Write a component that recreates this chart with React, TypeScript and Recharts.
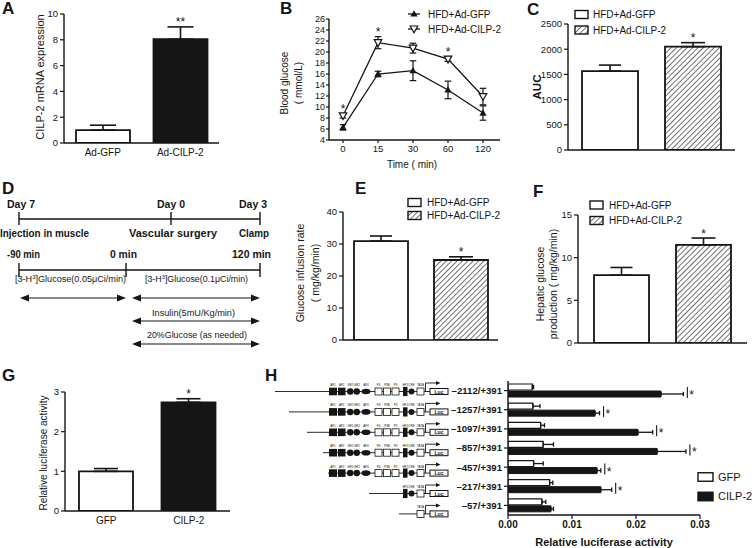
import type { CSSProperties, ReactNode } from 'react'
import { Bar, BarChart, Cell, ErrorBar, LabelList, Line, LineChart, ReferenceDot, XAxis, YAxis } from 'recharts'

const FONT = '"Liberation Sans", Arial, Helvetica, sans-serif'
const INK = '#151515'

// A · CILP-2 mRNA expression
const aGroups = ['Ad-GFP', 'Ad-CILP-2']
const aMean = [1.0, 8.05]
const aErr = [0.38, 0.95]
const aSig = ['', '**']
const aTicks = [0, 2, 4, 6, 8, 10]

// B · glucose tolerance
const bTimes = [0, 15, 30, 60, 120]
const bGfp = [6.3, 16.0, 16.6, 13.1, 8.9]
const bGfpErr = [0.5, 0.5, 1.8, 1.6, 1.3]
const bCilp = [8.4, 21.7, 20.7, 18.7, 11.9]
const bCilpErr = [0.4, 1.1, 0.9, 0.4, 1.5]
const bSig = ['*', '*', '', '*', '']
const bTicks = [4, 6, 8, 10, 12, 14, 16, 18, 20, 22, 24, 26]

// C · AUC
const cMean = [1565, 2050]
const cErr = [120, 80]
const cSig = ['', '*']
const cTicks = [0, 500, 1000, 1500, 2000, 2500]

// E · glucose infusion rate
const eMean = [30.9, 25.0]
const eErr = [1.6, 1.0]
const eSig = ['', '*']
const eTicks = [0, 10, 20, 30, 40]

// F · hepatic glucose production
const fMean = [7.95, 11.5]
const fErr = [0.9, 0.8]
const fSig = ['', '*']
const fTicks = [0, 5, 10, 15]

// G · luciferase
const gGroups = ['GFP', 'CILP-2']
const gMean = [1.0, 2.74]
const gErr = [0.07, 0.09]
const gSig = ['', '*']
const gTicks = [0, 1, 2, 3]

// H · promoter deletions
const hConstructs = ['–2112/+391', '–1257/+391', '–1097/+391', '–857/+391', '–457/+391', '–217/+391', '–57/+391']
const hGfp = [0.0038, 0.0039, 0.0051, 0.0055, 0.0040, 0.0065, 0.0053]
const hGfpErr = [0.0002, 0.0011, 0.0006, 0.0016, 0.0015, 0.0005, 0.0006]
const hCilp = [0.0239, 0.0136, 0.0203, 0.0233, 0.0139, 0.0145, 0.0067]
const hCilpErr = [0.0035, 0.0007, 0.0023, 0.0045, 0.0006, 0.0017, 0.0004]
const hSig = ['*', '*', '*', '*', '*', '*', '']
const hTicks = [0, 0.01, 0.02, 0.03]

const aRows = aGroups.map((g, i) => ({ g, mean: aMean[i], errRange: [0, aErr[i]], sig: aSig[i] }))
const gRows = gGroups.map((g, i) => ({ g, mean: gMean[i], errRange: [0, gErr[i]], sig: gSig[i] }))
const pairRow = (mean: number[], err: number[], sig: string[]) => [{
  g: '', gfp: mean[0], gfpErr: [0, err[0]], cilp: mean[1], cilpErr: [0, err[1]], sig: sig[1],
}]
const bRows = bTimes.map((t, i) => ({ t, gfp: bGfp[i], gfpErr: bGfpErr[i], cilp: bCilp[i], cilpErr: bCilpErr[i] }))
const hRows = hConstructs.map((c, i) => ({
  c, gfp: hGfp[i], gfpErr: [0, hGfpErr[i]], cilp: hCilp[i], cilpErr: [0, hCilpErr[i]], sig: hSig[i],
}))

type Plot = { x0: number; y0: number; x1: number; y1: number }
const PAD = 16
function frame(p: Plot, yw: number, xh: number) {
  const left = p.x0 - yw - PAD
  const top = p.y0 - PAD
  return {
    box: { position: 'absolute', left, top } as CSSProperties,
    width: p.x1 + PAD - left,
    height: p.y1 + xh + PAD - top,
    margin: { top: PAD, right: PAD, bottom: PAD, left: PAD },
  }
}

const axisLine = { stroke: INK, strokeWidth: 1.4 }
const tickLine = { stroke: INK, strokeWidth: 1.2 }
const tick = (size: number, bold = false) => ({ fill: INK, fontSize: size, fontFamily: FONT, fontWeight: bold ? 700 : 400 })

type Box = { x: number; y: number; width: number; height: number }
function boxOf(p: any): Box | null {
  const v = p?.viewBox ?? p
  if (!v || typeof v.x !== 'number' || typeof v.y !== 'number') return null
  return v
}

// significance mark above the error bar of a vertical bar
const upStar = (means: number[], errs: number[], sigs: string[]) => (p: any) => {
  const b = boxOf(p)
  const i = p?.index ?? 0
  if (!b || !sigs[i]) return null
  const top = b.y - errs[i] * (b.height / means[i])
  return <text key={`up${i}`} x={b.x + b.width / 2} y={top - 0.5} textAnchor="middle" fontSize={12} fontFamily={FONT} fill={INK}>{sigs[i]}</text>
}

// "|*" right of the error bar of a horizontal bar
const sideStar = (means: number[], errs: number[], sigs: string[]) => (p: any) => {
  const b = boxOf(p)
  const i = p?.index ?? 0
  if (!b || !sigs[i]) return null
  const end = b.x + b.width + errs[i] * (b.width / means[i])
  return <g key={`side${i}`}>
    <line x1={end + 4} x2={end + 4} y1={b.y - 4} y2={b.y + b.height + 1} stroke={INK} strokeWidth={1.1} />
    <text x={end + 6} y={b.y + b.height / 2 + 5} fontSize={12} fontFamily={FONT} fill={INK}>{sigs[i]}</text>
  </g>
}

const starAt = (text: string) => (p: any) => {
  const b = boxOf(p)
  if (!b) return null
  return <text x={b.x + b.width / 2} y={b.y - 0.5} textAnchor="middle" fontSize={12} fontFamily={FONT} fill={INK}>{text}</text>
}

function Hatch({ id }: { id: string }) {
  return <pattern id={id} patternUnits="userSpaceOnUse" width={3.8} height={3.8} patternTransform="rotate(45)">
    <rect width={3.8} height={3.8} fill="#fff" />
    <line x1={0} y1={0} x2={0} y2={3.8} stroke={INK} strokeWidth={1.2} />
  </pattern>
}

function TwoBarPanel({ plot, rows, ticks, yw, cap }: {
  plot: Plot; rows: { g: string; mean: number; errRange: number[]; sig: string }[]; ticks: number[]; yw: number; cap: number
}) {
  const f = frame(plot, yw, 20)
  const means = rows.map((r) => r.mean)
  const errs = rows.map((r) => r.errRange[1])
  const sigs = rows.map((r) => r.sig)
  return <div style={f.box}>
    <BarChart width={f.width} height={f.height} margin={f.margin} data={rows}>
      <XAxis dataKey="g" height={20} axisLine={axisLine} tickLine={false} tickSize={4} tickMargin={2} tick={tick(10)} />
      <YAxis width={yw} domain={[ticks[0], ticks[ticks.length - 1]]} ticks={ticks} interval={0} allowDataOverflow
        axisLine={axisLine} tickLine={tickLine} tickSize={4} tickMargin={2} tick={tick(9.5)} />
      <Bar dataKey="mean" barSize={54} stroke={INK} strokeWidth={1.8} isAnimationActive={false}>
        {rows.map((r, i) => <Cell key={r.g} fill={i ? INK : '#fff'} />)}
        <ErrorBar dataKey="errRange" width={cap} stroke={INK} strokeWidth={1.6} direction="y" />
        <LabelList dataKey="sig" content={upStar(means, errs, sigs)} />
      </Bar>
    </BarChart>
  </div>
}

function GroupPanel({ plot, mean, err, sig, ticks, yw, barSize, gap, hatchId }: {
  plot: Plot; mean: number[]; err: number[]; sig: string[]; ticks: number[]; yw: number; barSize: number; gap: number; hatchId: string
}) {
  const f = frame(plot, yw, 12)
  const rows = pairRow(mean, err, sig)
  return <div style={f.box}>
    <BarChart width={f.width} height={f.height} margin={f.margin} data={rows} barGap={gap}>
      <defs><Hatch id={hatchId} /></defs>
      <XAxis dataKey="g" height={12} axisLine={axisLine} tickLine={tickLine} tickSize={4} tick={false} />
      <YAxis width={yw} domain={[ticks[0], ticks[ticks.length - 1]]} ticks={ticks} interval={0} allowDataOverflow
        axisLine={axisLine} tickLine={tickLine} tickSize={4} tickMargin={2} tick={tick(9.5)} />
      <Bar dataKey="gfp" barSize={barSize} fill="#fff" stroke={INK} strokeWidth={1.8} isAnimationActive={false}>
        <ErrorBar dataKey="gfpErr" width={11} stroke={INK} strokeWidth={1.6} direction="y" />
      </Bar>
      <Bar dataKey="cilp" barSize={barSize} fill={`url(#${hatchId})`} stroke={INK} strokeWidth={1.8} isAnimationActive={false}>
        <ErrorBar dataKey="cilpErr" width={12} stroke={INK} strokeWidth={1.6} direction="y" />
        <LabelList dataKey="sig" content={upStar([mean[1]], [err[1]], [sig[1]])} />
      </Bar>
    </BarChart>
  </div>
}

const triUp = (p: any) => p.cx == null ? <g key={p.index} /> :
  <path key={p.index} d={`M${p.cx},${p.cy - 3.8} L${p.cx + 3.6},${p.cy + 2.6} L${p.cx - 3.6},${p.cy + 2.6} Z`} fill={INK} />
const triDown = (p: any) => p.cx == null ? <g key={p.index} /> :
  <path key={p.index} d={`M${p.cx - 3.8},${p.cy - 3} L${p.cx + 3.8},${p.cy - 3} L${p.cx},${p.cy + 3.8} Z`} fill="#fff" stroke={INK} strokeWidth={1.2} />

function PanelB() {
  const f = frame({ x0: 329, y0: 19, x1: 500, y1: 140 }, 22, 18)
  return <div style={f.box}>
    <LineChart width={f.width} height={f.height} margin={f.margin} data={bRows}>
      <XAxis dataKey="t" height={18} padding={{ left: 14, right: 17 }} axisLine={axisLine} tickLine={tickLine} tickSize={3} tickMargin={2} tick={tick(9.5)} />
      <YAxis width={22} domain={[4, 26]} ticks={bTicks} interval={0} allowDataOverflow
        axisLine={axisLine} tickLine={tickLine} tickSize={3} tickMargin={1} tick={tick(9)} />
      <Line dataKey="gfp" type="linear" stroke={INK} strokeWidth={1.3} dot={triUp} activeDot={false} isAnimationActive={false}>
        <ErrorBar dataKey="gfpErr" width={3.3} stroke={INK} strokeWidth={1.2} direction="y" />
      </Line>
      <Line dataKey="cilp" type="linear" stroke={INK} strokeWidth={1.3} dot={triDown} activeDot={false} isAnimationActive={false}>
        <ErrorBar dataKey="cilpErr" width={3.3} stroke={INK} strokeWidth={1.2} direction="y" />
      </Line>
      {bTimes.map((t, i) => bSig[i]
        ? <ReferenceDot key={t} x={t} y={bCilp[i] + bCilpErr[i]} r={0} fill="none" stroke="none" ifOverflow="visible" label={starAt(bSig[i])} />
        : null)}
    </LineChart>
  </div>
}

function PanelH() {
  const f = frame({ x0: 508, y0: 381, x1: 700, y1: 515 }, 60, 16)
  return <div style={f.box}>
    <BarChart layout="vertical" width={f.width} height={f.height} margin={f.margin} data={hRows} barGap={1}>
      <XAxis type="number" domain={[0, 0.03]} ticks={hTicks} interval={0} allowDataOverflow height={16}
        tickFormatter={(v: number) => v.toFixed(2)}
        axisLine={axisLine} tickLine={tickLine} tickSize={4} tickMargin={2} tick={tick(10, true)} />
      <YAxis type="category" dataKey="c" width={60} interval={0}
        axisLine={axisLine} tickLine={tickLine} tickSize={4} tickMargin={2} tick={tick(9.6, true)} />
      <Bar dataKey="gfp" barSize={6} fill="#fff" stroke={INK} strokeWidth={1.2} isAnimationActive={false}>
        <ErrorBar dataKey="gfpErr" width={2.2} stroke={INK} strokeWidth={1.3} direction="x" />
      </Bar>
      <Bar dataKey="cilp" barSize={6} fill={INK} stroke={INK} strokeWidth={1} isAnimationActive={false}>
        <ErrorBar dataKey="cilpErr" width={2.2} stroke={INK} strokeWidth={1.3} direction="x" />
        <LabelList dataKey="sig" content={sideStar(hCilp, hCilpErr, hSig)} />
      </Bar>
    </BarChart>
  </div>
}

function T({ x, y, size = 10, bold, anchor = 'start', rotate, len, children }: {
  x: number; y: number; size?: number; bold?: boolean; anchor?: 'start' | 'middle' | 'end'; rotate?: boolean; len?: number; children: ReactNode
}) {
  return <text x={x} y={y} fontSize={size} fontWeight={bold ? 700 : 400} textAnchor={rotate ? 'middle' : anchor}
    transform={rotate ? `rotate(-90 ${x} ${y})` : undefined}
    dominantBaseline={rotate ? 'central' : undefined}
    textLength={len} lengthAdjust={len ? 'spacingAndGlyphs' : undefined}>{children}</text>
}

function BoxLegend({ x, y1, y2, tx, w = 13, h = 8, size = 10, labels, second }: {
  x: number; y1: number; y2: number; tx: number; w?: number; h?: number; size?: number; labels: string[]; second: string
}) {
  return <g>
    <rect x={x} y={y1 - h / 2} width={w} height={h} fill="#fff" stroke={INK} strokeWidth={1.4} />
    <rect x={x} y={y2 - h / 2} width={w} height={h} fill={second} stroke={INK} strokeWidth={1.4} />
    <T x={tx} y={y1 + size * 0.36} size={size}>{labels[0]}</T>
    <T x={tx} y={y2 + size * 0.36} size={size}>{labels[1]}</T>
  </g>
}

function DArrow({ x1, x2, y }: { x1: number; x2: number; y: number }) {
  return <g>
    <line x1={x1 + 6} x2={x2 - 6} y1={y} y2={y} stroke={INK} strokeWidth={1.1} />
    <path d={`M${x1},${y} L${x1 + 9},${y - 3.5} L${x1 + 9},${y + 3.5} Z`} fill={INK} />
    <path d={`M${x2},${y} L${x2 - 9},${y - 3.5} L${x2 - 9},${y + 3.5} Z`} fill={INK} />
  </g>
}

function Label3H({ x, y, rest, len }: { x: number; y: number; rest: string; len: number }) {
  return <text x={x} y={y} fontSize={8.4} fill={INK} textLength={len} lengthAdjust="spacingAndGlyphs">
    [3-H<tspan dy={-3} fontSize={5.5}>3</tspan><tspan dy={3}>]{rest}</tspan>
  </text>
}

function ProtocolD() {
  return <g>
    <T x={7} y={208} size={10.5} bold>Day 7</T>
    <T x={157} y={208} size={10.5} bold>Day 0</T>
    <T x={239} y={208} size={10.5} bold>Day 3</T>
    <line x1={19} x2={260} y1={219} y2={219} stroke={INK} strokeWidth={1.4} />
    {[19, 171, 260].map((x) => <line key={x} x1={x} x2={x} y1={212} y2={225} stroke={INK} strokeWidth={1.4} />)}
    <T x={0} y={237} size={10} bold len={89}>Injection in muscle</T>
    <T x={129} y={237} size={10} bold len={88}>Vascular surgery</T>
    <T x={239} y={237} size={10} bold len={30}>Clamp</T>
    <T x={7} y={258} size={10.5} bold len={33}>-90 min</T>
    <T x={110} y={258} size={10.5} bold len={27}>0 min</T>
    <T x={232} y={258} size={10.5} bold len={39}>120 min</T>
    <line x1={19} x2={260} y1={270} y2={270} stroke={INK} strokeWidth={1.4} />
    {[19, 126, 260].map((x) => <line key={x} x1={x} x2={x} y1={263} y2={277} stroke={INK} strokeWidth={1.4} />)}
    <Label3H x={15} y={282} rest="Glucose(0.05μCi/min)" len={111} />
    <DArrow x1={20} x2={126} y={298} />
    <Label3H x={145} y={282} rest="Glucose(0.1μCi/min)" len={103} />
    <DArrow x1={132} x2={260} y={298} />
    <T x={152} y={316} size={8.6} len={83}>Insulin(5mU/Kg/min)</T>
    <DArrow x1={132} x2={260} y={321} />
    <T x={147} y={338} size={8.6} len={100}>20%Glucose (as needed)</T>
    <DArrow x1={132} x2={260} y={344} />
  </g>
}

const promoterParts = [
  { name: 'AF1', kind: 'sq', x: 329, w: 8 },
  { name: 'AF2', kind: 'sq', x: 338, w: 7.5 },
  { name: 'GR1', kind: 'dot', x: 347, w: 6.5 },
  { name: 'GR2', kind: 'dot', x: 353.5, w: 6.5 },
  { name: 'AF3', kind: 'oval', x: 361.5, w: 9 },
  { name: 'P4', kind: 'box', x: 375, w: 7 },
  { name: 'P3B', kind: 'box', x: 383.5, w: 7 },
  { name: 'P3', kind: 'box', x: 392, w: 7 },
  { name: 'HF1', kind: 'bar', x: 403, w: 4.5 },
  { name: 'CRE', kind: 'dot', x: 408.5, w: 6 },
  { name: 'TATA', kind: 'box', x: 417, w: 7 },
]
const promoterStart = [275, 289, 307, 323, 328, 369, 399]
const promoterFirst = [0, 0, 0, 0, 0, 8, 10]

function Constructs() {
  return <g>
    {promoterStart.map((sx, r) => {
      const y = 391.5 + r * 20.4
      const parts = promoterParts.slice(promoterFirst[r])
      return <g key={sx}>
        <line x1={sx} x2={430} y1={y} y2={y} stroke={INK} strokeWidth={0.9} />
        {parts.map((p) => {
          const cx = p.x + p.w / 2
          const mark = p.kind === 'sq' ? <rect x={p.x} y={y - 3.8} width={p.w} height={7.6} fill={INK} />
            : p.kind === 'dot' ? <circle cx={cx} cy={y} r={p.w / 2} fill={INK} />
            : p.kind === 'oval' ? <ellipse cx={cx} cy={y} rx={p.w / 2} ry={2.8} fill={INK} />
            : p.kind === 'bar' ? <rect x={p.x} y={y - 4.6} width={p.w} height={9.2} fill={INK} />
            : <rect x={p.x} y={y - 3.5} width={p.w} height={7} fill="#fff" stroke={INK} strokeWidth={0.8} />
          return <g key={p.name}>
            {mark}
            <text x={cx} y={y - 5.6} fontSize={3} textAnchor="middle">{p.name}</text>
          </g>
        })}
        <path d={`M425.5,${y} V${y - 8.5} H437`} fill="none" stroke={INK} strokeWidth={0.9} />
        <path d={`M440.5,${y - 8.5} L436,${y - 10.5} L436,${y - 6.5} Z`} fill={INK} />
        <rect x={430} y={y - 3} width={18} height={6} fill="#fff" stroke={INK} strokeWidth={1} />
        <text x={439} y={y + 2} fontSize={5.2} fontWeight={700} textAnchor="middle">Luc</text>
      </g>
    })}
  </g>
}

function Overlay() {
  return <svg width={754} height={548} style={{ position: 'absolute', left: 0, top: 0, pointerEvents: 'none' }}
    fontFamily={FONT} fill={INK}>
    <defs><Hatch id="hatchLegend" /></defs>
    {/* panel letters */}
    <T x={2} y={14} size={17} bold>A</T>
    <T x={280} y={14} size={17} bold>B</T>
    <T x={527} y={15} size={17} bold>C</T>
    <T x={2} y={194} size={17} bold>D</T>
    <T x={355} y={194} size={17} bold>E</T>
    <T x={533} y={197} size={17} bold>F</T>
    <T x={2} y={381} size={17} bold>G</T>
    <T x={265} y={381} size={17} bold>H</T>

    {/* axis titles */}
    <T x={40} y={77} size={11} rotate>CILP-2 mRNA expression</T>
    <T x={284} y={83} size={10} rotate>Blood glucose</T>
    <T x={298} y={83} size={10} rotate>( mmol/L)</T>
    <T x={412} y={168} size={10} anchor="middle">Time ( min)</T>
    <T x={537} y={87} size={11.5} bold rotate>AUC</T>
    <T x={300} y={273} size={10.5} rotate>Glucose infusion rate</T>
    <T x={315} y={273} size={10.5} rotate>( mg/kg/min)</T>
    <T x={540} y={284} size={10.5} rotate>Hepatic glucose</T>
    <T x={553} y={284} size={10.5} rotate>production ( mg/kg/min)</T>
    <T x={43} y={453} size={10} rotate>Relative luciferase activity</T>
    <T x={604} y={546} size={11} bold anchor="middle">Relative luciferase activity</T>

    {/* legends */}
    <g>
      <line x1={408} x2={420} y1={14} y2={14} stroke={INK} strokeWidth={1.3} />
      {triUp({ cx: 414, cy: 14, index: 'lg1' })}
      <T x={428} y={17.5} size={10}>HFD+Ad-GFP</T>
      <line x1={408} x2={420} y1={29} y2={29} stroke={INK} strokeWidth={1.3} />
      {triDown({ cx: 414, cy: 29, index: 'lg2' })}
      <T x={428} y={32.5} size={10}>HFD+Ad-CILP-2</T>
    </g>
    <BoxLegend x={575} y1={14.5} y2={30} tx={593} labels={['HFD+Ad-GFP', 'HFD+Ad-CILP-2']} second="url(#hatchLegend)" />
    <BoxLegend x={408} y1={202.5} y2={215.5} tx={427} labels={['HFD+Ad-GFP', 'HFD+Ad-CILP-2']} second="url(#hatchLegend)" />
    <BoxLegend x={590} y1={205} y2={220.5} tx={609} labels={['HFD+Ad-GFP', 'HFD+Ad-CILP-2']} second="url(#hatchLegend)" />
    <BoxLegend x={698} y1={477} y2={496.5} tx={718} w={15} h={8.5} size={11} labels={['GFP', 'CILP-2']} second={INK} />

    <ProtocolD />
    <Constructs />
  </svg>
}

export default function App() {
  return <div style={{ position: 'absolute', left: 0, top: 0, width: 754, height: 548, background: '#fff', overflow: 'hidden', fontFamily: FONT }}>
    <TwoBarPanel plot={{ x0: 64, y0: 14, x1: 219, y1: 143 }} rows={aRows} ticks={aTicks} yw={30} cap={13} />
    <PanelB />
    <GroupPanel plot={{ x0: 568, y0: 24, x1: 735, y1: 150 }} mean={cMean} err={cErr} sig={cSig} ticks={cTicks} yw={30} barSize={56} gap={27} hatchId="hatchC" />
    <GroupPanel plot={{ x0: 343, y0: 212, x1: 498, y1: 340 }} mean={eMean} err={eErr} sig={eSig} ticks={eTicks} yw={26} barSize={54} gap={26} hatchId="hatchE" />
    <GroupPanel plot={{ x0: 578, y0: 215, x1: 747, y1: 343 }} mean={fMean} err={fErr} sig={fSig} ticks={fTicks} yw={26} barSize={55} gap={27} hatchId="hatchF" />
    <TwoBarPanel plot={{ x0: 65, y0: 392, x1: 230, y1: 511 }} rows={gRows} ticks={gTicks} yw={26} cap={12} />
    <PanelH />
    <Overlay />
  </div>
}
